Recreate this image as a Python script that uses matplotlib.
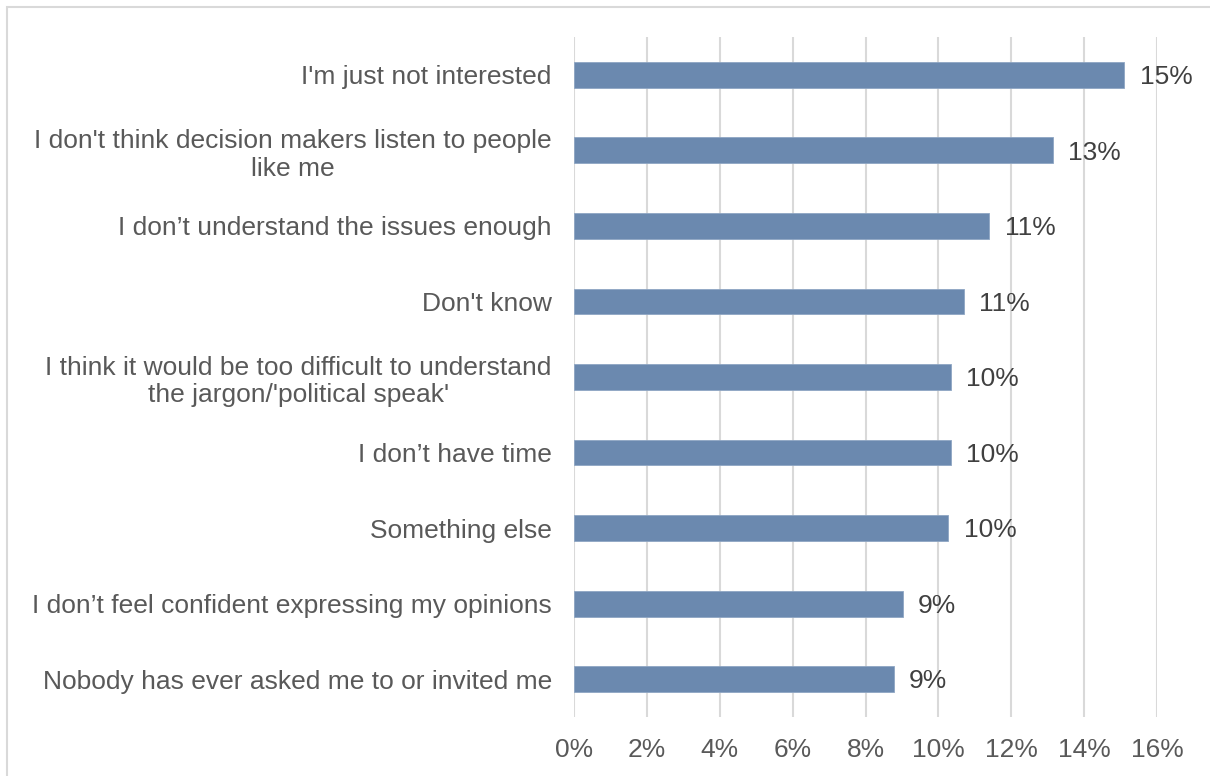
import matplotlib
matplotlib.use('Agg')
import matplotlib.pyplot as plt
from matplotlib.patches import Rectangle
from matplotlib.ticker import FuncFormatter

# Reasons for not taking part (share of respondents, %)
reasons = ["I'm just not interested",
           "I don't think decision makers listen to people\nlike me",
           "I don\u2019t understand the issues enough",
           "Don't know",
           "I think it would be too difficult to understand\nthe jargon/'political speak'",
           "I don\u2019t have time",
           "Something else",
           "I don\u2019t feel confident expressing my opinions",
           "Nobody has ever asked me to or invited me"]
shares = [15.1, 13.15, 11.4, 10.7, 10.35, 10.35, 10.27, 9.02, 8.78]
x_ticks = [0, 2, 4, 6, 8, 10, 12, 14, 16]

plt.rcParams['font.family'] = ['Liberation Sans', 'DejaVu Sans']

fig = plt.figure(figsize=(12.1, 7.76), dpi=100)
ax = fig.add_axes([574 / 1210, 1 - 717 / 776, (1157 - 574) / 1210, (717 - 37) / 776])

# light frame around the chart area
fig.patches.append(Rectangle((7 / 1210, -0.1), 1.2, 1 - 7 / 776 + 0.1,
                             transform=fig.transFigure, fill=False,
                             edgecolor='#d9d9d9', linewidth=1.5))

pos = list(range(len(reasons)))
ax.barh(pos, shares, height=0.34, color='#6b89af', edgecolor='#8ea6c4', linewidth=0.6, zorder=3)

for p, v in zip(pos, shares):
    ax.text(v + 0.42, p + 0.03, f'{v:.0f}%', va='center', ha='left', fontsize=19, color='#404040')

ax.set_ylim(len(reasons) - 0.5, -0.5)
ax.set_xlim(0, 16)
ax.set_xticks(x_ticks)
ax.xaxis.set_major_formatter(FuncFormatter(lambda v, _: f'{v:.0f}%'))
ax.set_yticks(pos)
ax.set_yticklabels(reasons, ha='right', multialignment='center', linespacing=1.2)

ax.grid(axis='x', color='#d9d9d9', linewidth=1.5, zorder=0)
for s in ax.spines.values():
    s.set_visible(False)
ax.tick_params(axis='both', length=0, labelsize=19, labelcolor='#595959')
ax.tick_params(axis='y', pad=16)
ax.tick_params(axis='x', pad=15)

fig.savefig('out.png', dpi=100)
